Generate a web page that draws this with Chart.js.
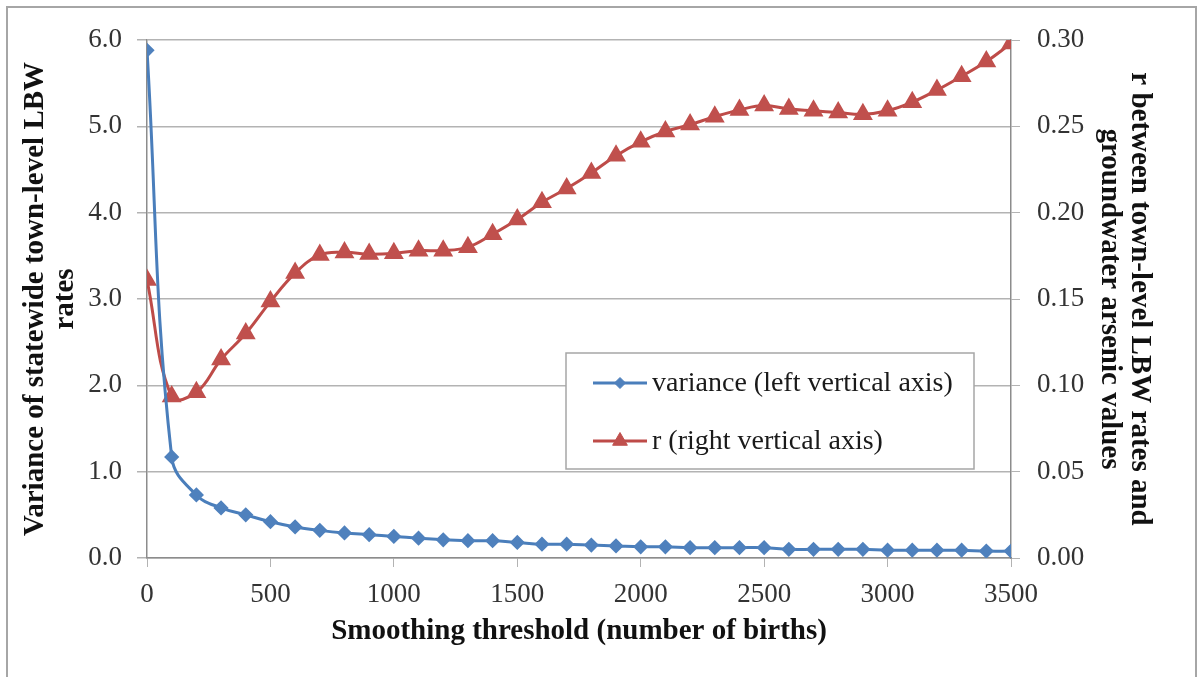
<!DOCTYPE html>
<html>
<head>
<meta charset="utf-8">
<script src="https://cdn.jsdelivr.net/npm/chart.js@4/dist/chart.umd.min.js"></script>
<style>
  html, body { margin: 0; padding: 0; background: #fff; }
  #wrap { position: relative; width: 1199px; height: 677px; overflow: hidden; }
  #frame { position: absolute; left: 6px; top: 6px; width: 1191px; height: 700px;
           border: 2px solid #a6a6a6; box-sizing: border-box; }
  canvas { position: absolute; left: 0; top: 0; }
</style>
</head>
<body>
<div id="wrap">
  <div id="frame"></div>
  <canvas id="chart" width="1199" height="677"></canvas>
</div>
<script>
// smoothing threshold (number of births)
const thresholds = [0, 100, 200, 300, 400, 500, 600, 700, 800, 900,
  1000, 1100, 1200, 1300, 1400, 1500, 1600, 1700, 1800, 1900,
  2000, 2100, 2200, 2300, 2400, 2500, 2600, 2700, 2800, 2900,
  3000, 3100, 3200, 3300, 3400, 3500];

// variance of statewide town-level LBW rates (left axis)
const variance = [5.88, 1.17, 0.73, 0.58, 0.50, 0.42, 0.36, 0.32, 0.29, 0.27,
  0.25, 0.23, 0.21, 0.20, 0.20, 0.18, 0.16, 0.16, 0.15, 0.14,
  0.13, 0.13, 0.12, 0.12, 0.12, 0.12, 0.10, 0.10, 0.10, 0.10,
  0.09, 0.09, 0.09, 0.09, 0.08, 0.08];

// r between town-level LBW rates and arsenic values (right axis)
const rValues = [0.161, 0.0935, 0.096, 0.115, 0.130, 0.1485, 0.165, 0.1755, 0.177, 0.176,
  0.1765, 0.178, 0.178, 0.180, 0.1875, 0.196, 0.206, 0.214, 0.223, 0.233,
  0.241, 0.247, 0.251, 0.2556, 0.2595, 0.262, 0.260, 0.259, 0.258, 0.257,
  0.259, 0.264, 0.271, 0.279, 0.2875, 0.298];

const seriesLabels = ['variance (left vertical axis)', 'r (right vertical axis)'];

const xTitle = 'Smoothing threshold (number of births)';
const yTitle = ['Variance of statewide town-level LBW', 'rates'];
const y1Title = ['r between town-level LBW rates and', 'groundwater arsenic values'];

const FONT = "'Liberation Serif', 'DejaVu Serif', serif";
const gridColor = '#b3b3b3';
const axisColor = '#8c8c8c';

// Legend box drawn inside the plot, like the Excel original
const insideLegend = {
    id: 'insideLegend',
    afterDraw(chart, args, opts) {
        const ctx = chart.ctx;
        ctx.save();
        ctx.fillStyle = '#fff';
        ctx.fillRect(opts.x, opts.y, opts.w, opts.h);
        ctx.strokeStyle = '#a6a6a6';
        ctx.lineWidth = 1.5;
        ctx.strokeRect(opts.x, opts.y, opts.w, opts.h);

        chart.data.datasets.forEach((ds, i) => {
            const cy = opts.y + opts.rowTop + i * opts.rowGap;
            const x0 = opts.x + opts.lineStart;
            const x1 = x0 + opts.lineLen;
            ctx.strokeStyle = ds.borderColor;
            ctx.lineWidth = ds.borderWidth;
            ctx.beginPath();
            ctx.moveTo(x0, cy);
            ctx.lineTo(x1, cy);
            ctx.stroke();
            ctx.fillStyle = ds.pointBackgroundColor;
            ctx.strokeStyle = ds.pointBorderColor;
            ctx.lineWidth = 1;
            Chart.helpers.drawPoint(ctx, {
                pointStyle: ds.pointStyle,
                radius: ds.pointRadius,
                rotation: 0,
                borderWidth: 1
            }, (x0 + x1) / 2, cy);
            ctx.fillStyle = '#1a1a1a';
            ctx.font = opts.font;
            ctx.textBaseline = 'middle';
            ctx.textAlign = 'left';
            ctx.fillText(ds.label, x1 + 5, cy + 1);
        });
        ctx.restore();
    }
};

const ctx = document.getElementById('chart').getContext('2d');
new Chart(ctx, {
    type: 'line',
    data: {
        labels: thresholds,
        datasets: [{
            label: seriesLabels[0],
            data: thresholds.map((t, i) => ({x: t, y: variance[i]})),
            yAxisID: 'y',
            borderColor: '#4a7ebb',
            borderWidth: 3,
            pointStyle: 'rectRot',
            pointRadius: 5.5,
            pointBackgroundColor: '#4f81bd',
            pointBorderColor: '#4f81bd',
            tension: 0.4,
            fill: false
        }, {
            label: seriesLabels[1],
            data: thresholds.map((t, i) => ({x: t, y: rValues[i]})),
            yAxisID: 'y1',
            borderColor: '#be4b48',
            borderWidth: 3,
            pointStyle: 'triangle',
            pointRadius: 8.5,
            pointBackgroundColor: '#c0504d',
            pointBorderColor: '#c0504d',
            tension: 0.4,
            fill: false
        }]
    },
    options: {
        responsive: false,
        animation: false,
        layout: {padding: {top: 40, left: 0, right: 0, bottom: 0}},
        scales: {
            x: {
                type: 'linear',
                min: 0,
                max: 3500,
                afterFit: (s) => { s.height = 119; },
                ticks: {
                    stepSize: 500,
                    padding: 12,
                    color: '#333',
                    font: {family: FONT, size: 27},
                    callback: (v) => String(v)
                },
                grid: {drawOnChartArea: false, tickLength: 9, color: gridColor},
                border: {color: axisColor, width: 1.5},
                title: {
                    display: true,
                    text: xTitle,
                    color: '#111',
                    font: {family: FONT, size: 29, weight: 'bold', lineHeight: 1.05},
                    padding: {top: 0, bottom: 30}
                }
            },
            y: {
                position: 'left',
                min: 0,
                max: 6,
                afterFit: (s) => { s.width = 147; },
                ticks: {
                    stepSize: 1,
                    padding: 15,
                    color: '#333',
                    font: {family: FONT, size: 27},
                    callback: (v) => v.toFixed(1)
                },
                grid: {color: gridColor, lineWidth: 1.5, tickLength: 10},
                border: {color: axisColor, width: 1.5},
                title: {
                    display: true,
                    text: yTitle,
                    color: '#111',
                    font: {family: FONT, size: 29, weight: 'bold', lineHeight: 1.05},
                    padding: {top: 20, bottom: 0}
                }
            },
            y1: {
                position: 'right',
                min: 0,
                max: 0.3,
                afterFit: (s) => { s.width = 188; },
                ticks: {
                    stepSize: 0.05,
                    padding: 17,
                    color: '#333',
                    font: {family: FONT, size: 27},
                    callback: (v) => v.toFixed(2)
                },
                grid: {drawOnChartArea: false, color: gridColor, tickLength: 9},
                border: {color: axisColor, width: 1.5},
                title: {
                    display: true,
                    text: y1Title,
                    color: '#111',
                    font: {family: FONT, size: 29, weight: 'bold', lineHeight: 1.05},
                    padding: {top: 44, bottom: 0}
                }
            }
        },
        plugins: {
            legend: {display: false},
            tooltip: {enabled: false},
            insideLegend: {
                x: 566, y: 353, w: 408, h: 116,
                rowTop: 30, rowGap: 58,
                lineStart: 27, lineLen: 54,
                font: "28px 'Liberation Serif', 'DejaVu Serif', serif"
            }
        }
    },
    plugins: [insideLegend]
});
</script>
</body>
</html>
